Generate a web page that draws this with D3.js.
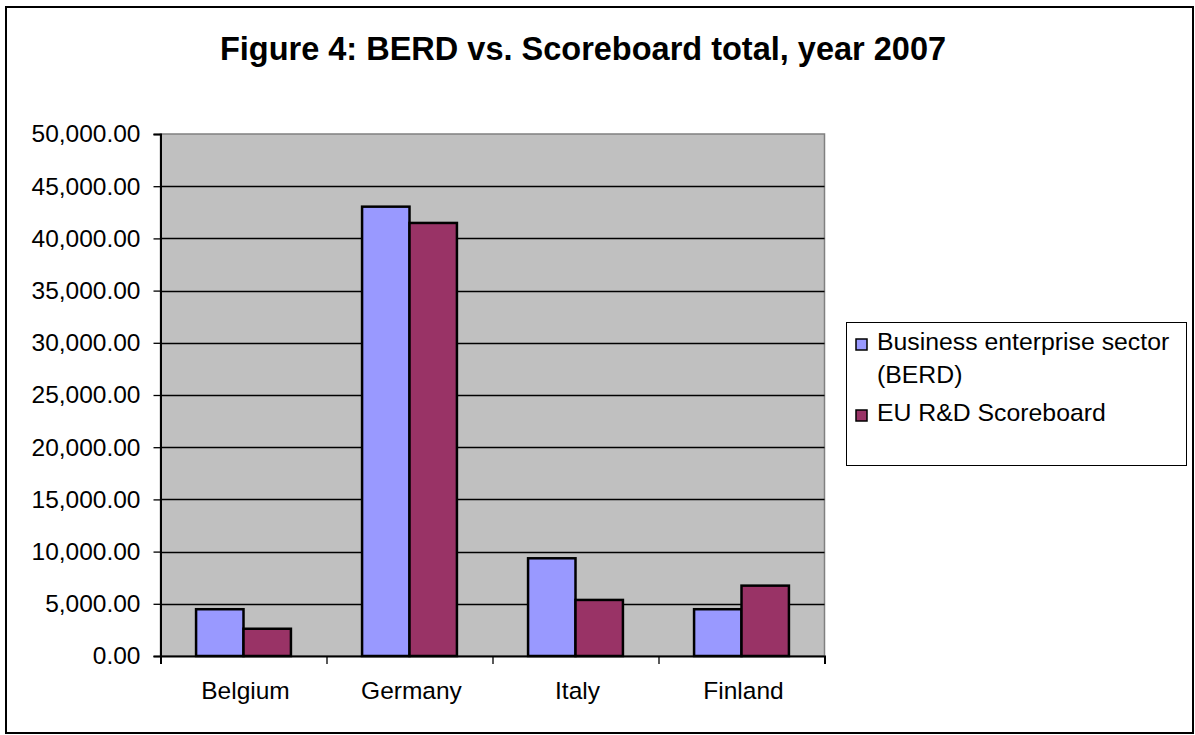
<!DOCTYPE html>
<meta charset="utf-8">
<script src="https://d3js.org/d3.v7.min.js"></script>
<style>
  body { margin: 0; background: #fff; }
  text { font-family: Arial, "Liberation Sans", sans-serif; fill: #000; }
</style>
<body>
<div id="chart"></div>
<script>

// data
var countries = ["Belgium", "Germany", "Italy", "Finland"];
var berd = [4480, 43040, 9360, 4480];
var scoreboard = [2610, 41480, 5370, 6740];
var seriesNames = ["Business enterprise sector (BERD)", "EU R&D Scoreboard"];
var seriesColors = ["#9999ff", "#993366"];
var yTicks = [0, 5000, 10000, 15000, 20000, 25000, 30000, 35000, 40000, 45000, 50000];

var W = 1195, H = 735;
var plot = {left: 160.5, top: 134, right: 824.5, bottom: 656};

var svg = d3.select("#chart").append("svg")
    .attr("width", W)
    .attr("height", H);

// outer frame
svg.append("rect")
    .attr("x", 6).attr("y", 7)
    .attr("width", 1187).attr("height", 726)
    .attr("fill", "#fff")
    .attr("stroke", "#000")
    .attr("stroke-width", 2);

svg.append("text")
    .attr("x", 583)
    .attr("y", 60)
    .attr("text-anchor", "middle")
    .style("font-size", "32.5px")
    .style("font-weight", "bold")
    .text("Figure 4: BERD vs. Scoreboard total, year 2007");

// Excel style: bar group = 2 bar widths, gap = 1.5 bar widths split on both sides
var band = (plot.right - plot.left) / countries.length;
var barW = band / 3.5;

var y = d3.scaleLinear()
    .domain([0, 50000])
    .range([plot.bottom, plot.top]);

// plot area
svg.append("rect")
    .attr("x", plot.left).attr("y", plot.top)
    .attr("width", plot.right - plot.left)
    .attr("height", plot.bottom - plot.top)
    .attr("fill", "#c0c0c0")
    .attr("stroke", "#808080")
    .attr("stroke-width", 1.5);

// gridlines
svg.append("g")
  .selectAll("line")
  .data(yTicks.filter(function(d) { return d > 0 && d < 50000; }))
  .enter().append("line")
    .attr("x1", plot.left).attr("x2", plot.right)
    .attr("y1", function(d) { return Math.round(y(d)) + 0.5; })
    .attr("y2", function(d) { return Math.round(y(d)) + 0.5; })
    .attr("stroke", "#000")
    .attr("stroke-width", 1.3);

// bars
[berd, scoreboard].forEach(function(vals, s) {
  svg.append("g")
    .selectAll("rect")
    .data(vals)
    .enter().append("rect")
      .attr("x", function(d, i) { return plot.left + i * band + 0.75 * barW + s * barW; })
      .attr("y", function(d) { return y(d); })
      .attr("width", barW)
      .attr("height", function(d) { return plot.bottom - y(d); })
      .attr("fill", seriesColors[s])
      .attr("stroke", "#000")
      .attr("stroke-width", 2.5);
});

// y axis
var yAxis = d3.axisLeft(y)
    .tickValues(yTicks)
    .tickSize(7)
    .tickPadding(13)
    .tickFormat(d3.format(",.2f"));

var gy = svg.append("g")
    .attr("transform", "translate(" + plot.left + ",0)")
    .call(yAxis);
gy.select(".domain").attr("stroke", "#000").attr("stroke-width", 2);
gy.selectAll(".tick line").attr("stroke", "#000").attr("stroke-width", 1.3);
gy.selectAll("text")
    .style("font-size", "24.5px")
    .style("font-family", "Arial, 'Liberation Sans', sans-serif")
    .attr("fill", "#000");

// x axis: ticks at category boundaries
var xLin = d3.scaleLinear().domain([0, countries.length]).range([plot.left, plot.right]);
var gx = svg.append("g")
    .attr("transform", "translate(0," + plot.bottom + ")")
    .call(d3.axisBottom(xLin).ticks(4).tickSize(8).tickFormat(""));
gx.select(".domain").attr("stroke", "#000").attr("stroke-width", 2);
gx.selectAll(".tick line").attr("stroke", "#000").attr("stroke-width", 1.3);

svg.append("g")
  .selectAll("text")
  .data(countries)
  .enter().append("text")
    .attr("x", function(d, i) { return xLin(i + 0.5) + 2; })
    .attr("y", 699)
    .attr("text-anchor", "middle")
    .style("font-size", "24.5px")
    .text(function(d) { return d; });

// legend
var lg = svg.append("g");
lg.append("rect")
    .attr("x", 846.5).attr("y", 322.5)
    .attr("width", 340).attr("height", 143)
    .attr("fill", "#fff")
    .attr("stroke", "#000")
    .attr("stroke-width", 1);

var legendRows = [
  {lines: ["Business enterprise sector", "(BERD)"], y: 350},
  {lines: ["EU R&D Scoreboard"], y: 421}
];
legendRows.forEach(function(r, i) {
  lg.append("rect")
      .attr("x", 856).attr("y", r.y - 11)
      .attr("width", 11).attr("height", 11)
      .attr("fill", seriesColors[i])
      .attr("stroke", "#000")
      .attr("stroke-width", 1.5);
  r.lines.forEach(function(t, j) {
    lg.append("text")
        .attr("x", 877)
        .attr("y", r.y + j * 33)
        .style("font-size", "24.8px")
        .text(t);
  });
});

</script>
</body>
